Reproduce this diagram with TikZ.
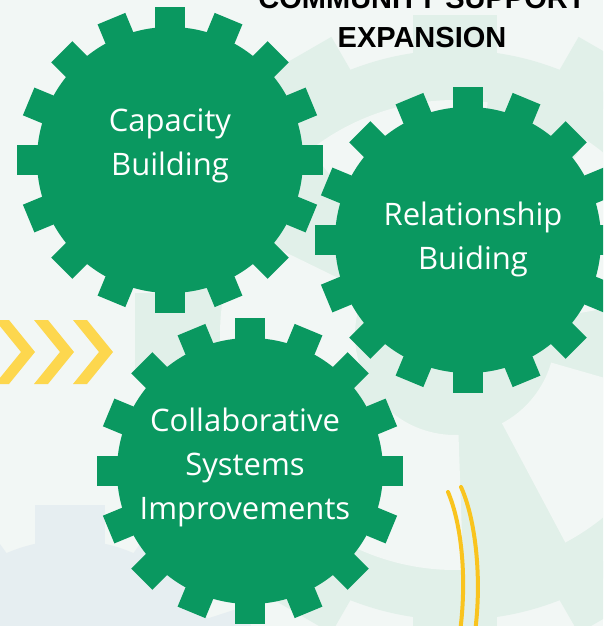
\documentclass[tikz,border=0pt]{standalone}
\usepackage{fontspec}
\newfontfamily\gearfont{Open Sans}
\newfontfamily\headfont{Liberation Sans}

\definecolor{cogGreen}{HTML}{0A9860}
\definecolor{paper}{HTML}{F2F7F5}
\definecolor{mint}{HTML}{E1F0E9}
\definecolor{haze}{HTML}{E6EEF1}
\definecolor{chevYellow}{HTML}{FDD74E}
\definecolor{lineYellow}{HTML}{F9C41E}

\tikzstyle{cog} = [fill=cogGreen]
\tikzstyle{lbl} = [text=white, align=center, inner sep=0pt, font=\gearfont\fontsize{31}{44}\selectfont]
\tikzstyle{head} = [text=black, anchor=base, inner sep=0pt, font=\headfont\bfseries\fontsize{29}{34}\selectfont]
\tikzstyle{chev} = [fill=chevYellow]
\tikzstyle{arcl} = [draw=lineYellow, line width=4pt, line cap=round]

% green gear with 16 teeth
\newcommand{\cogwheel}[2]{%
  \fill[cog] (#1,#2) circle (133pt);
  \foreach \a in {0,22.5,...,337.5}
    \fill[cog, shift={(#1,#2)}, rotate=\a] (-15,125) rectangle (15,153);
}

\begin{document}
\begin{tikzpicture}[x=1pt, y=-1pt]
    \useasboundingbox (0,0) rectangle (603,626);
    \clip (0,0) rectangle (603,626);
    \fill[paper] (0,0) rectangle (603,626);

    % faint wheels behind
    \begin{scope}[shift={(455,335)}]
        \fill[mint] (0,0) circle (285pt);
        \foreach \a in {0,30,...,330}
            \fill[mint, rotate=\a] (-42,270) rectangle (42,320);
        \foreach \a in {10,82,...,298}
            \fill[paper] (\a:100pt) arc[start angle=\a, end angle=\a+46, radius=100pt]
                -- (\a+46:235pt) arc[start angle=\a+46, end angle=\a, radius=235pt] -- cycle;
    \end{scope}
    \begin{scope}[shift={(70,700)}]
        \fill[haze] (0,0) circle (160pt);
        \foreach \a in {0,36,...,324}
            \fill[haze, rotate=\a] (-35,150) rectangle (35,195);
    \end{scope}

    % chevrons
    \foreach \x in {35,74,113}
        \fill[chev] (\x-40,320) -- (\x-26,320) -- (\x,352) -- (\x-26,384) -- (\x-40,384) -- (\x-14,352) -- cycle;

    % gears
    \cogwheel{170}{160}
    \cogwheel{468}{240}
    \cogwheel{250}{471}

    % Place nodes
    \node[lbl] (capacity) at (170,146) {Capacity\\Building};
    \node[lbl] (relation) at (473,239) {Relationship\\Buiding};
    \node[lbl] (collab) at (245,467) {Collaborative\\Systems\\Improvements};
    \node[head] (title1) at (422,9) {COMMUNITY SUPPORT};
    \node[head] (title2) at (422,48) {EXPANSION};

    % yellow strokes
    \draw[arcl] (448,492) .. controls (462,525) and (467,580) .. (460,632);
    \draw[arcl] (461,487) .. controls (476,520) and (482,580) .. (475,632);
\end{tikzpicture}
\end{document}
